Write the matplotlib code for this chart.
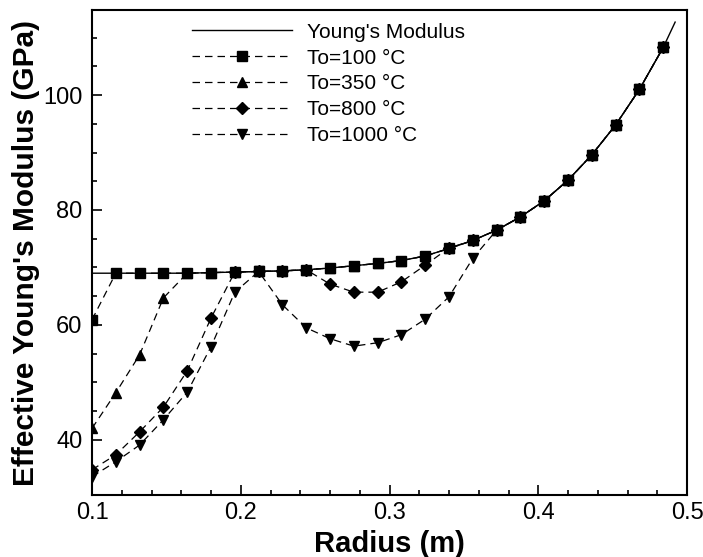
#!/usr/bin/env python3
"""Effective Young's modulus versus radius for several initial temperatures."""

import matplotlib

matplotlib.use("Agg")
import matplotlib.pyplot as plt
from matplotlib.ticker import MultipleLocator


# sample positions shared by the four temperature curves (m)
radius = [0.100, 0.116, 0.132, 0.148, 0.164, 0.180, 0.196, 0.212, 0.228, 0.244,
          0.260, 0.276, 0.292, 0.308, 0.324, 0.340, 0.356, 0.372, 0.388, 0.404,
          0.420, 0.436, 0.452, 0.468, 0.484]

# reference Young's modulus curve (GPa)
young_radius = [0.100, 0.116, 0.132, 0.148, 0.164, 0.180, 0.196, 0.212, 0.228, 0.244,
                0.260, 0.276, 0.292, 0.308, 0.324, 0.340, 0.356, 0.372, 0.388, 0.404,
                0.420, 0.436, 0.452, 0.468, 0.484, 0.492]
young_modulus = [69.0, 69.0, 69.0, 69.0, 69.0, 69.1, 69.2, 69.3, 69.4, 69.6,
                 69.9, 70.3, 70.7, 71.2, 72.0, 73.3, 74.7, 76.5, 78.8, 81.6,
                 85.2, 89.6, 94.8, 101.0, 108.3, 112.7]

# effective modulus for each initial temperature (GPa)
e_t100 = [60.9, 69.0, 69.0, 69.0, 69.0, 69.1, 69.2, 69.3, 69.4, 69.6,
          69.9, 70.3, 70.7, 71.2, 72.0, 73.3, 74.7, 76.5, 78.8, 81.6,
          85.2, 89.6, 94.8, 101.0, 108.3]
e_t350 = [42.0, 48.2, 54.8, 64.7, 69.0, 69.1, 69.2, 69.3, 69.4, 69.6,
          69.9, 70.3, 70.7, 71.2, 72.0, 73.3, 74.7, 76.5, 78.8, 81.6,
          85.2, 89.6, 94.8, 101.0, 108.3]
e_t800 = [34.8, 37.4, 41.4, 45.7, 52.0, 61.2, 69.2, 69.3, 69.4, 69.6,
          67.1, 65.7, 65.7, 67.5, 70.4, 73.4, 74.7, 76.5, 78.8, 81.6,
          85.2, 89.6, 94.8, 101.0, 108.3]
e_t1000 = [33.6, 36.2, 39.1, 43.5, 48.3, 56.2, 65.7, 69.3, 63.5, 59.5,
           57.6, 56.3, 56.9, 58.3, 61.0, 64.9, 71.6, 76.5, 78.8, 81.6,
           85.2, 89.6, 94.8, 101.0, 108.3]

series_labels = ["To=100 \u00b0C", "To=350 \u00b0C", "To=800 \u00b0C", "To=1000 \u00b0C"]


def setup_style() -> None:
    plt.rcParams.update(
        {
            "font.family": ["Liberation Sans", "DejaVu Sans"],
            "font.size": 17,
            "axes.linewidth": 1.5,
            "xtick.direction": "in",
            "ytick.direction": "in",
            "xtick.major.size": 7.2,
            "ytick.major.size": 7.2,
            "xtick.minor.size": 3.6,
            "ytick.minor.size": 3.6,
            "xtick.major.width": 1.2,
            "ytick.major.width": 1.2,
            "xtick.minor.width": 1.2,
            "ytick.minor.width": 1.2,
            "xtick.major.pad": 5,
            "ytick.major.pad": 7,
        }
    )


def main() -> int:
    setup_style()
    fig = plt.figure(figsize=(7.03, 5.57), dpi=100)
    ax = fig.add_axes([0.1309, 0.1113, 0.8464, 0.8707])

    ax.plot(young_radius, young_modulus, color="black", lw=1.0, label="Young's Modulus")
    dash = (0, (6, 4))
    styles = [("s", 7.2), ("^", 6.5), ("D", 6.5), ("v", 7.0)]
    for values, (marker, size), label in zip([e_t100, e_t350, e_t800, e_t1000], styles, series_labels):
        ax.plot(radius, values, color="black", lw=0.9, ls=dash, marker=marker,
                markersize=size, markerfacecolor="black", markeredgecolor="black", label=label)

    ax.set_xlim(0.1, 0.5)
    ax.set_ylim(30.4, 114.8)
    ax.xaxis.set_major_locator(MultipleLocator(0.1))
    ax.xaxis.set_minor_locator(MultipleLocator(0.02))
    ax.yaxis.set_major_locator(MultipleLocator(20))
    ax.yaxis.set_minor_locator(MultipleLocator(5))
    ax.tick_params(which="both", top=False, right=False)

    ax.set_xlabel("Radius (m)", fontsize=21, fontweight="bold")
    ax.set_ylabel("Effective Young's Modulus (GPa)", fontsize=21.5, fontweight="bold")
    ax.xaxis.set_label_coords(0.5, -0.072)
    ax.yaxis.set_label_coords(-0.088, 0.5)

    ax.legend(
        loc="upper left",
        bbox_to_anchor=(0.168, 0.974),
        frameon=False,
        fontsize=15,
        handlelength=4.8,
        handletextpad=0.7,
        labelspacing=0.33,
        borderpad=0,
        borderaxespad=0,
        numpoints=1,
    )

    fig.savefig("out.png", dpi=100)
    plt.close(fig)
    return 0


if __name__ == "__main__":
    raise SystemExit(main())
